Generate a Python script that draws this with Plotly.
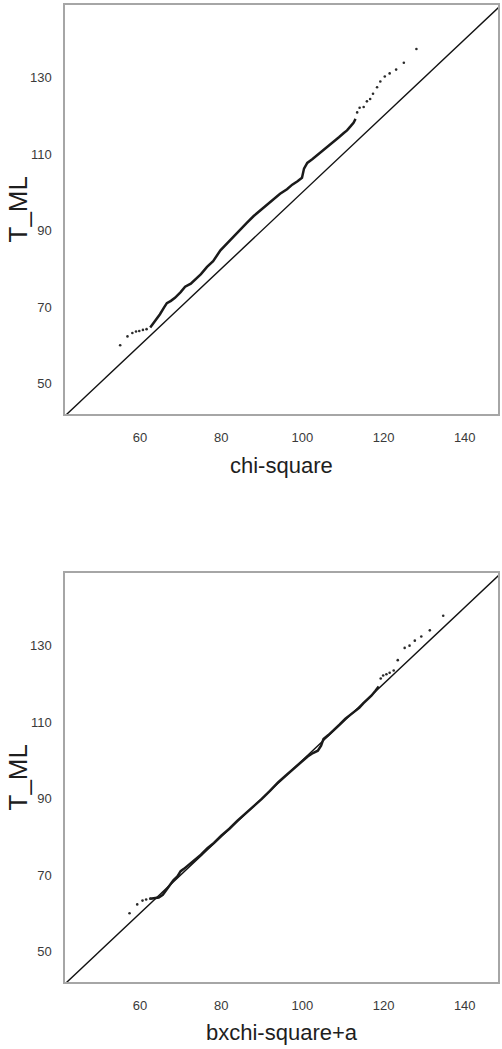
import plotly.graph_objects as go

# ---------------- data ----------------
# Top panel: T_ML vs chi-square quantiles
top_low_x = [55.1, 56.9, 58.1, 59.0, 59.8, 60.7, 61.6]
top_low_y = [60.0, 62.3, 63.2, 63.6, 63.7, 64.0, 64.2]
top_body_x = [62.5, 63.7, 64.9, 66.0, 66.6, 67.6, 68.6, 70.0, 71.1, 72.5, 73.6, 75.0,
              76.5, 78.0, 79.8, 81.8, 83.0, 84.5, 86.3, 88.0, 89.5, 91.3, 93.0, 94.5,
              96.2, 97.5, 98.8, 99.9, 100.4, 101.2, 102.5, 103.8, 104.9, 106.0, 106.9,
              108.0, 109.0, 110.2, 111.0, 111.9, 112.6, 113.1]
top_body_y = [64.6, 66.3, 68.1, 70.0, 71.0, 71.6, 72.4, 73.9, 75.3, 76.1, 77.2, 78.6,
              80.5, 82.0, 84.8, 87.0, 88.6, 90.1, 92.0, 93.8, 95.1, 96.8, 98.3, 99.6,
              100.8, 102.0, 102.9, 103.8, 106.2, 107.7, 108.7, 109.8, 110.7, 111.8, 112.5,
              113.5, 114.4, 115.5, 116.2, 117.3, 118.2, 119.2]
top_high_x = [113.5, 114.1, 115.1, 115.9, 116.7, 117.4, 118.4, 119.2, 120.3, 121.5, 123.1, 125.0, 128.1]
top_high_y = [120.9, 122.1, 122.3, 123.8, 124.4, 125.8, 127.5, 129.0, 130.3, 131.1, 132.1, 133.9, 137.5]

# Bottom panel: T_ML vs b x chi-square + a
bot_low_x = [57.4, 59.3, 60.6, 61.5, 62.5]
bot_low_y = [60.0, 62.3, 63.3, 63.6, 63.8]
bot_body_x = [62.5, 63.6, 64.6, 65.6, 66.4, 67.2, 68.2, 69.2, 70.0, 70.8, 72.0, 73.5, 75.0,
              76.6, 78.2, 80.0, 82.0, 84.0, 86.0, 88.0, 90.0, 92.0, 94.0, 96.0, 98.0, 100.0,
              101.3, 102.6, 103.8, 104.6, 105.2, 106.4, 107.8, 109.2, 110.6, 111.8, 113.0,
              114.0, 115.0, 116.0, 117.0, 118.0, 118.8]
bot_body_y = [63.8, 64.0, 64.1, 64.8, 66.0, 67.4, 68.6, 69.6, 71.0, 71.6, 72.6, 73.9, 75.3,
              77.0, 78.4, 80.3, 82.1, 84.2, 86.1, 87.9, 89.9, 92.0, 94.2, 96.1, 97.9, 99.8,
              101.0, 101.9, 102.5, 103.8, 105.6, 106.6, 107.9, 109.4, 110.9, 111.9, 112.8,
              113.7, 114.9, 115.9, 116.9, 118.2, 119.3]
bot_high_x = [119.3, 119.9, 120.7, 121.5, 122.5, 123.5, 125.2, 126.4, 127.7, 129.3, 131.4, 134.7]
bot_high_y = [121.4, 122.2, 122.5, 122.9, 123.5, 126.2, 129.4, 130.0, 131.3, 132.4, 134.0, 137.8]

# identity reference line y = x
ref_line = [30, 160]

tick_vals_x = [60, 80, 100, 120, 140]
tick_vals_y = [50, 70, 90, 110, 130]
x_titles = ["chi-square", "bxchi-square+a"]
y_title = "T_ML"

# ---------------- figure ----------------
W, H = 502, 1049
fig = go.Figure()

panels = [
    ("x", "y", top_low_x, top_low_y, top_body_x, top_body_y, top_high_x, top_high_y),
    ("x2", "y2", bot_low_x, bot_low_y, bot_body_x, bot_body_y, bot_high_x, bot_high_y),
]
dot_style = dict(size=2.6, color="#2a2a2a")
for xa, ya, lx, ly, bx, by, hx, hy in panels:
    fig.add_trace(go.Scatter(x=ref_line, y=ref_line, mode="lines", xaxis=xa, yaxis=ya,
                             line=dict(color="#111111", width=1.4), hoverinfo="skip"))
    fig.add_trace(go.Scatter(x=bx, y=by, mode="lines", xaxis=xa, yaxis=ya,
                             line=dict(color="#1a1a1a", width=2.5)))
    fig.add_trace(go.Scatter(x=lx + hx, y=ly + hy, mode="markers", xaxis=xa, yaxis=ya,
                             marker=dot_style))

xdom = [65 / W, 498 / W]
top_dom = [1 - 414 / H, 1 - 5 / H]
bot_dom = [1 - 982 / H, 1 - 573 / H]

xrange_ = [41.5, 148.2]
yrange_ = [42.0, 149.0]

tickfont = dict(family="Liberation Sans Narrow, Arial Narrow, Liberation Sans, Arial",
                size=13, color="#3a3a3a")
axis_common = dict(showgrid=False, zeroline=False, showline=True, mirror=True,
                   linecolor="#a6a6a6", linewidth=1.5, ticks="", tickfont=tickfont)

fig.update_layout(
    width=W, height=H, showlegend=False,
    margin=dict(l=0, r=0, t=0, b=0),
    paper_bgcolor="white", plot_bgcolor="white",
    xaxis=dict(domain=xdom, range=xrange_, anchor="y", tickvals=tick_vals_x,
               ticklabelstandoff=11, **axis_common),
    yaxis=dict(domain=top_dom, range=yrange_, anchor="x", tickvals=tick_vals_y,
               ticklabelstandoff=9, **axis_common),
    xaxis2=dict(domain=xdom, range=xrange_, anchor="y2", tickvals=tick_vals_x,
                ticklabelstandoff=11, **axis_common),
    yaxis2=dict(domain=bot_dom, range=yrange_, anchor="x2", tickvals=tick_vals_y,
                ticklabelstandoff=9, **axis_common),
)

title_font = dict(family="Liberation Sans, Arial", size=22, color="#1e1e1e")
ytitle_font = dict(family="Liberation Sans, Arial", size=26, color="#1e1e1e")
xc = (xdom[0] + xdom[1]) / 2
fig.add_annotation(text=x_titles[0], x=xc, y=1 - 465 / H, xref="paper", yref="paper",
                   showarrow=False, font=title_font, xanchor="center", yanchor="middle")
fig.add_annotation(text=x_titles[1], x=xc, y=1 - 1032 / H, xref="paper", yref="paper",
                   showarrow=False, font=title_font, xanchor="center", yanchor="middle")
fig.add_annotation(text=y_title, x=17 / W, y=(top_dom[0] + top_dom[1]) / 2, xref="paper",
                   yref="paper", showarrow=False, font=ytitle_font, textangle=-90,
                   xanchor="center", yanchor="middle")
fig.add_annotation(text=y_title, x=17 / W, y=(bot_dom[0] + bot_dom[1]) / 2, xref="paper",
                   yref="paper", showarrow=False, font=ytitle_font, textangle=-90,
                   xanchor="center", yanchor="middle")

# remove the browser's default page margin so the figure sits at the window origin
fig.write_html("out.html", config={"displayModeBar": False},
               post_script="document.body.style.margin='0';")
